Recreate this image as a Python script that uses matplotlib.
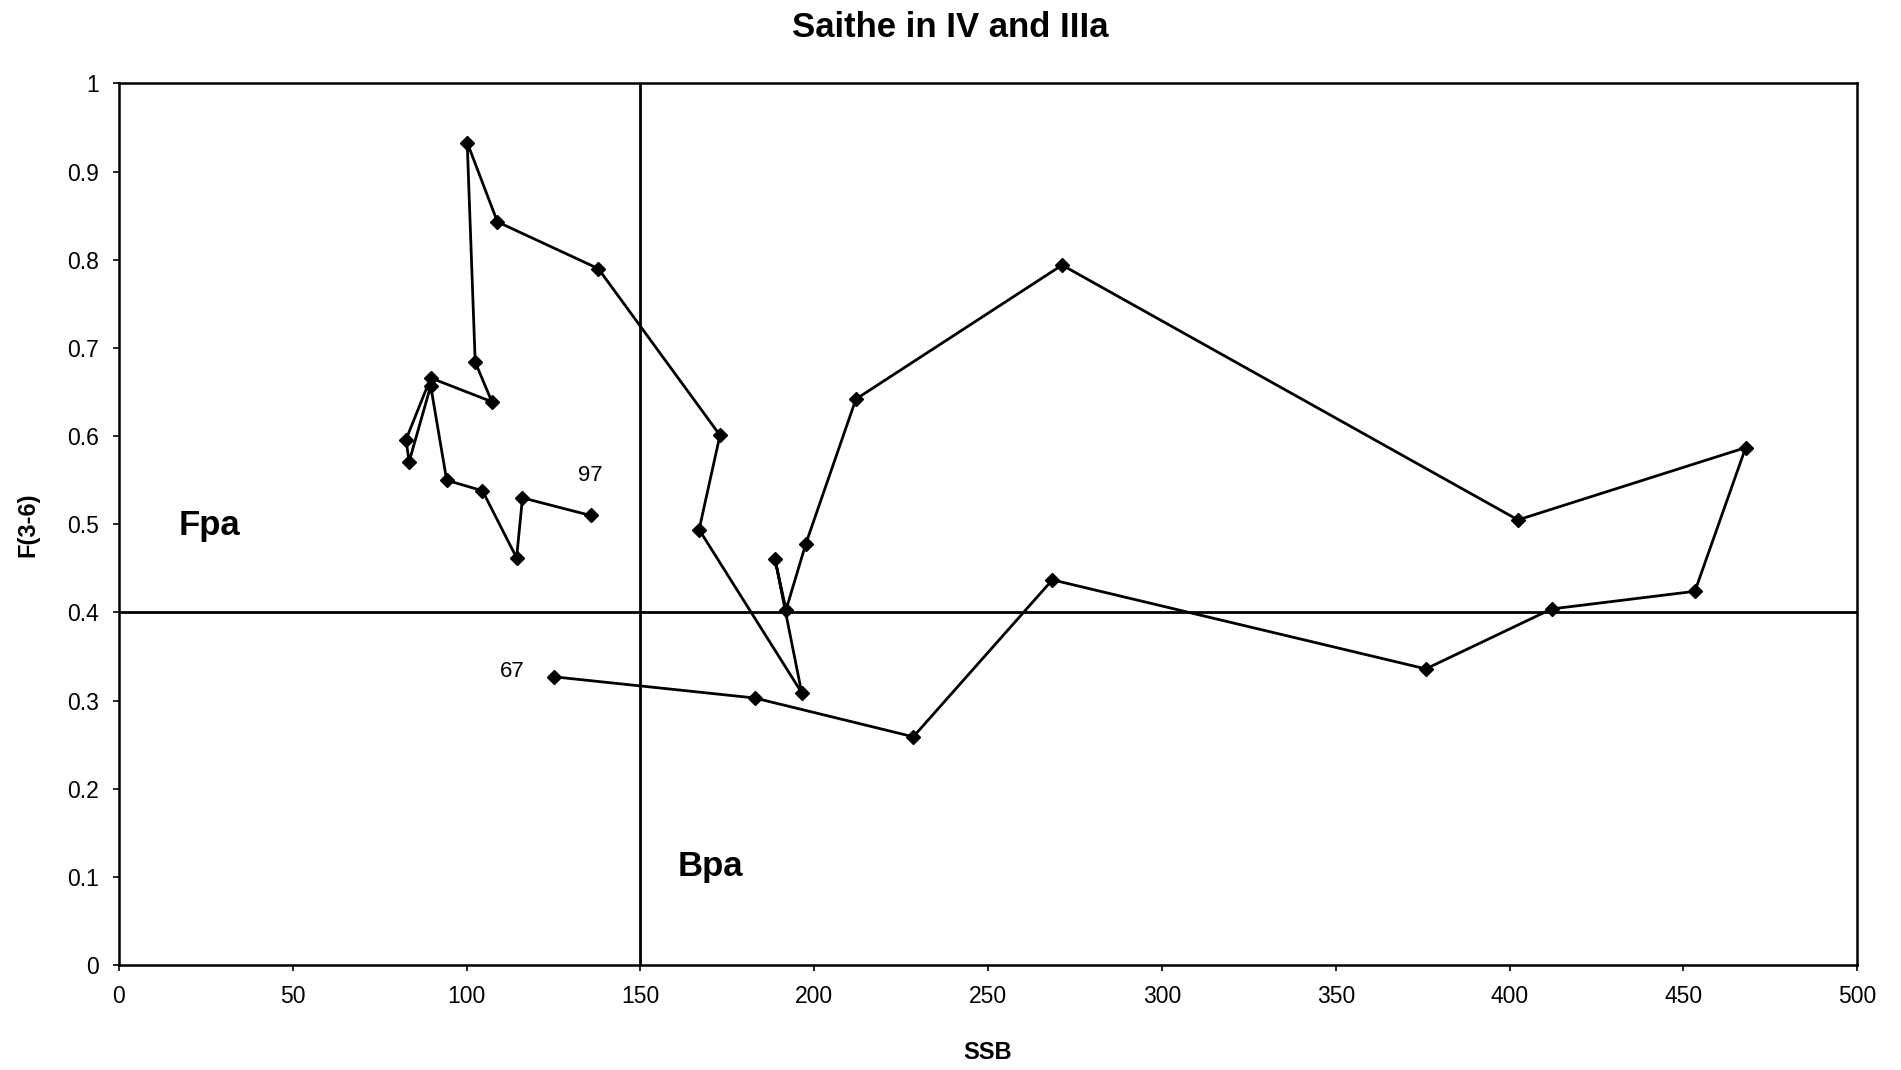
import matplotlib
matplotlib.use("Agg")
import matplotlib.pyplot as plt

plt.rcParams["font.family"] = ["Liberation Sans", "DejaVu Sans"]

# SSB and F(3-6) by year, 1967 -> 1997
years = list(range(1967, 1998))
ssb = [125.2, 182.9, 228.5, 268.5, 375.9, 412.1, 453.3, 467.9, 402.4, 271.3,
       212.0, 197.6, 191.9, 188.7, 196.4, 166.9, 172.9, 137.9, 108.9, 100.2,
       102.5, 107.3, 89.7, 82.6, 83.5, 89.7, 94.3, 104.6, 114.4, 116.1, 135.7]
f36 = [0.327, 0.303, 0.259, 0.437, 0.336, 0.404, 0.424, 0.587, 0.505, 0.794,
       0.642, 0.478, 0.403, 0.461, 0.309, 0.494, 0.601, 0.790, 0.843, 0.933,
       0.684, 0.639, 0.666, 0.596, 0.571, 0.657, 0.550, 0.538, 0.462, 0.530, 0.510]

bpa = 150
fpa = 0.4

fig = plt.figure(figsize=(19.01, 10.70), dpi=100)
ax = fig.add_axes([0.0625, 0.098, 0.9145, 0.824])

ax.axvline(bpa, color="black", lw=2)
ax.axhline(fpa, color="black", lw=2)
ax.plot(ssb, f36, color="black", lw=2, marker="D", ms=7.5, mfc="black", mec="black")

ax.annotate(str(years[0])[2:], (ssb[0], f36[0]), xytext=(-30, 4),
            textcoords="offset points", ha="center", va="center", fontsize=16)
ax.annotate(str(years[-1])[2:], (ssb[-1], f36[-1]), xytext=(0, 29),
            textcoords="offset points", ha="center", va="center", fontsize=16)

ax.text(26.2, 0.499, "Fpa", ha="center", va="center", fontsize=25, weight="bold")
ax.text(170, 0.112, "Bpa", ha="center", va="center", fontsize=25, weight="bold")

ax.set_xlim(0, 500)
ax.set_ylim(0, 1)
ax.set_xticks(range(0, 501, 50))
ax.set_yticks([i / 10 for i in range(11)])
ax.set_yticklabels(["0", "0.1", "0.2", "0.3", "0.4", "0.5", "0.6", "0.7", "0.8", "0.9", "1"])
ax.tick_params(labelsize=16.5, length=4, width=1.2, pad=10)
for s in ax.spines.values():
    s.set_linewidth(1.8)

ax.set_xlabel("SSB", fontsize=17, weight="bold", labelpad=24)
ax.set_ylabel("F(3-6)", fontsize=17, weight="bold", labelpad=20)
fig.suptitle("Saithe in IV and IIIa", fontsize=25, weight="bold", y=0.99)

fig.savefig("out.png", dpi=100)
